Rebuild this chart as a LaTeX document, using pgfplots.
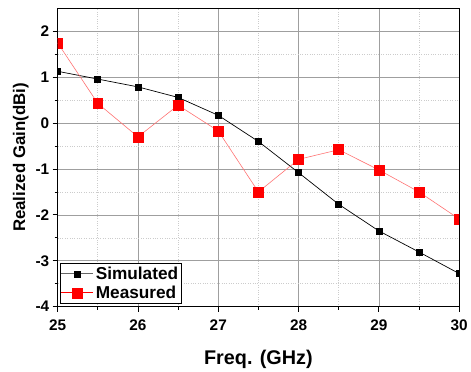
\documentclass[border=0pt]{standalone}
\usepackage{fontspec}
\setmainfont{Liberation Sans}
\usepackage{pgfplots}
\pgfplotsset{compat=1.18}
\begin{document}
\begin{tikzpicture}
\begin{axis}[
  scale only axis,
  width=404bp, height=300bp,
  xmin=25, xmax=30, ymin=-4, ymax=2.5,
  xtick={25,26,27,28,29,30},
  ytick={-4,-3,-2,-1,0,1,2},
  minor xtick={25.5,26.5,27.5,28.5,29.5},
  minor ytick={-3.5,-2.5,-1.5,-0.5,0.5,1.5},
  grid=both,
  major grid style={gray!75, line width=0.7pt},
  minor grid style={gray!40, dotted, line width=0.6pt},
  tick align=outside,
  tick pos=left,
  major tick length=5bp,
  minor tick length=3bp,
  tick style={black, line width=0.8pt},
  axis line style={black, line width=0.9pt},
  /pgf/number format/assume math mode=true,
  ticklabel style={font=\fontsize{15.5}{18}\selectfont\bfseries},
  xticklabel style={yshift=-5bp},
  xlabel={Freq. (GHz)},
  ylabel={Realized Gain(dBi)},
  xlabel style={font=\fontsize{20}{22}\selectfont\bfseries, yshift=-12bp},
  ylabel style={font=\fontsize{17}{20}\selectfont\bfseries, yshift=0bp},
  clip mode=individual,
  clip marker paths=true,
  legend style={at={(0.005,0.01)}, anchor=south west, draw=black, line width=0.6pt,
    font=\fontsize{17.4}{19}\selectfont\bfseries, inner xsep=1pt, inner ysep=1.5pt,
    row sep=1pt, nodes={inner sep=2bp}},
  legend cell align=left,
]
\begin{scope}
\clip (rel axis cs:0,0) rectangle (rel axis cs:1,1);
\addplot[black, line width=0.7pt, mark=square*, mark size=3bp, mark options={fill=black, draw=black},
  legend image code/.code={
    \draw[gray!80!black, line width=1.1pt] (0bp,0bp) -- (32bp,0bp);
    \draw[mark=square*, mark size=3bp, mark options={fill=black, draw=black}] plot coordinates {(16bp,0bp)};}]
coordinates {(25,1.13) (25.5,0.96) (26,0.79) (26.5,0.56) (27,0.17) (27.5,-0.40) (28,-1.08) (28.5,-1.77) (29,-2.35) (29.5,-2.81) (30,-3.28)};
\addlegendentry{Simulated}
\addplot[red!55, line width=0.6pt, mark=square*, mark size=5bp, mark options={fill=red, draw=red},
  legend image code/.code={
    \draw[red, line width=1.1pt] (0bp,0bp) -- (32bp,0bp);
    \draw[mark=square*, mark size=5bp, mark options={fill=red, draw=red}] plot coordinates {(16bp,0bp)};}]
coordinates {(25,1.75) (25.5,0.43) (26,-0.30) (26.5,0.39) (27,-0.17) (27.5,-1.50) (28,-0.79) (28.5,-0.58) (29,-1.02) (29.5,-1.50) (30,-2.09)};
\addlegendentry{Measured}
\end{scope}
\end{axis}
\useasboundingbox ([xshift=-58bp,yshift=-62.7bp]current axis.south west) rectangle ([xshift=9bp,yshift=8.5bp]current axis.north east);
\end{tikzpicture}
\end{document}
